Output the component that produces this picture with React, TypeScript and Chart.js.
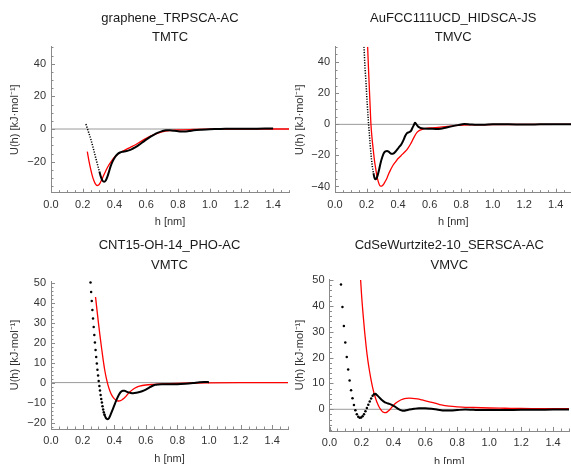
import React, { useEffect, useRef } from "react";
import { Chart, registerables } from "chart.js";

Chart.register(...registerables);

const FONT = '"Liberation Sans", Arial, Helvetica, sans-serif';

// ---------- Panel 1: graphene_TRPSCA-AC / TMTC ----------
const p1Title = ["graphene_TRPSCA-AC", "TMTC"];
const p1WallH = [0.22, 0.235, 0.25, 0.265, 0.28, 0.295, 0.305];
const p1WallU = [3, -1.4, -5.9, -11.3, -17, -22.4, -26];
const p1BlackH = [0.305, 0.315, 0.325, 0.335, 0.345, 0.355, 0.365, 0.375, 0.39, 0.405, 0.42, 0.435, 0.45, 0.47, 0.49, 0.51, 0.53, 0.55, 0.575, 0.6, 0.625, 0.65, 0.675, 0.7, 0.725, 0.75, 0.78, 0.81, 0.84, 0.87, 0.9, 0.95, 1.0, 1.05, 1.1, 1.2, 1.3, 1.4];
const p1BlackU = [-26, -29.5, -31.7, -32.3, -31.5, -29.3, -26.3, -23, -19.5, -17, -15.3, -14.4, -13.9, -13.6, -13.1, -12.3, -11.2, -10, -8.3, -6.5, -4.8, -3.4, -2.2, -1.3, -0.8, -0.8, -1.1, -1.5, -1.5, -1.2, -0.8, -0.4, -0.1, 0, 0.1, 0.1, 0.2, 0.3];
const p1RedH = [0.229, 0.24, 0.25, 0.26, 0.27, 0.28, 0.29, 0.3, 0.31, 0.32, 0.33, 0.345, 0.36, 0.38, 0.4, 0.42, 0.44, 0.46, 0.48, 0.5, 0.53, 0.56, 0.6, 0.65, 0.7, 0.75, 0.8, 0.9, 1.0, 1.2, 1.5];
const p1RedU = [-13.9, -20, -24.5, -28.5, -31.5, -33.6, -34.6, -34.3, -33, -31, -28.8, -25.7, -22.8, -19.8, -17.3, -15.5, -14.2, -13.2, -12.2, -11.2, -9.8, -8, -5.7, -3.5, -1.8, -1, -0.6, -0.3, -0.1, 0, 0];

// ---------- Panel 2: AuFCC111UCD_HIDSCA-JS / TMVC ----------
const p2Title = ["AuFCC111UCD_HIDSCA-JS", "TMVC"];
const p2WallH = [0.184, 0.19, 0.197, 0.202, 0.207, 0.212, 0.216, 0.22, 0.224, 0.23, 0.237, 0.244];
const p2WallU = [50, 37, 26.5, 17, 9.2, 1.5, -3.7, -9, -14.4, -21, -27.3, -31.5];
const p2BlackH = [0.244, 0.25, 0.256, 0.262, 0.27, 0.28, 0.29, 0.3, 0.31, 0.32, 0.33, 0.34, 0.35, 0.36, 0.37, 0.38, 0.39, 0.4, 0.41, 0.42, 0.435, 0.445, 0.455, 0.47, 0.482, 0.49, 0.5, 0.507, 0.515, 0.525, 0.54, 0.56, 0.6, 0.64, 0.67, 0.7, 0.74, 0.78, 0.82, 0.86, 0.9, 0.95, 1.0, 1.1, 1.2, 1.3, 1.4, 1.5];
const p2BlackU = [-31.5, -34.3, -35.3, -35, -33, -29, -24.5, -21, -18.5, -17.4, -17.2, -17.6, -18.5, -19, -18.8, -18, -16.8, -15.5, -14.2, -13, -10, -7.5, -5.8, -5, -4.2, -2.5, -0.5, 1.1, 0.2, -1.2, -2.3, -2.7, -2.8, -3, -2.8, -2.2, -1.3, -0.5, 0.2, -0.1, -0.3, -0.2, 0, 0, -0.1, 0, 0.1, 0];
const p2RedH = [0.207, 0.212, 0.217, 0.222, 0.228, 0.235, 0.243, 0.25, 0.258, 0.266, 0.275, 0.283, 0.29, 0.3, 0.31, 0.32, 0.33, 0.34, 0.35, 0.36, 0.37, 0.385, 0.4, 0.42, 0.44, 0.46, 0.48, 0.5, 0.52, 0.54, 0.57, 0.62, 0.7, 0.78, 0.9, 1.0, 1.5];
const p2RedU = [50, 37, 25, 13.5, 0, -9, -16.6, -23, -28.4, -33.5, -37, -39.2, -39.8, -39.5, -38.3, -36.5, -34.5, -32, -29.8, -27.8, -26, -24, -22, -20, -18, -15.8, -12.5, -8.5, -5.2, -3.7, -2.7, -2.2, -1.5, -0.6, -0.3, -0.1, 0];

// ---------- Panel 3: CNT15-OH-14_PHO-AC / VMTC ----------
const p3Title = ["CNT15-OH-14_PHO-AC", "VMTC"];
const p3WallH = [0.25, 0.254, 0.258, 0.262, 0.266, 0.27, 0.274, 0.278, 0.282, 0.286, 0.29, 0.294, 0.298, 0.302, 0.306, 0.31, 0.314, 0.318, 0.322, 0.326, 0.33, 0.334, 0.338];
const p3WallU = [50, 45.3, 40.8, 36.3, 32, 27.8, 23.8, 20, 16.3, 12.8, 9.5, 6.4, 3.5, 0.8, -1.7, -4, -6.2, -8.2, -10, -11.8, -13.4, -14.8, -16];
const p3BlackH = [0.338, 0.345, 0.352, 0.36, 0.367, 0.375, 0.385, 0.395, 0.405, 0.415, 0.425, 0.435, 0.445, 0.455, 0.465, 0.475, 0.49, 0.505, 0.52, 0.54, 0.56, 0.58, 0.6, 0.62, 0.64, 0.66, 0.68, 0.7, 0.75, 0.8, 0.85, 0.9, 0.94, 0.97, 1.0];
const p3BlackU = [-16, -17.3, -18.1, -18.3, -17.8, -16.5, -14.5, -12.5, -10.5, -8.5, -6.8, -5.4, -4.5, -4.1, -4.1, -4.4, -4.9, -5.2, -5.3, -5.1, -4.7, -4.2, -3.5, -2.6, -1.7, -1.1, -0.9, -0.8, -0.8, -0.8, -0.6, -0.2, 0.2, 0.3, 0.2];
const p3RedH = [0.282, 0.29, 0.3, 0.31, 0.32, 0.33, 0.34, 0.35, 0.36, 0.37, 0.38, 0.39, 0.4, 0.41, 0.42, 0.43, 0.44, 0.45, 0.46, 0.47, 0.48, 0.49, 0.5, 0.52, 0.54, 0.56, 0.6, 0.65, 0.7, 0.8, 0.9, 1.0, 1.2, 1.5];
const p3RedU = [42.8, 37, 30, 23.5, 17.3, 11.5, 6.3, 2.2, -1, -3.6, -5.6, -7, -8, -8.7, -9.1, -9.2, -9, -8.6, -8, -7.2, -6.3, -5.4, -4.6, -3.3, -2.4, -1.8, -1.2, -0.9, -0.7, -0.4, -0.2, -0.1, 0, 0];

// ---------- Panel 4: CdSeWurtzite2-10_SERSCA-AC / VMVC ----------
const p4Title = ["CdSeWurtzite2-10_SERSCA-AC", "VMVC"];
const p4WallH = [0.072, 0.081, 0.09, 0.099, 0.108, 0.117, 0.126, 0.135, 0.144, 0.153, 0.162, 0.171, 0.18, 0.189, 0.198, 0.207, 0.216, 0.225, 0.234, 0.243, 0.252, 0.261, 0.27, 0.279, 0.288];
const p4WallU = [48.3, 39.6, 32.2, 25.8, 20.2, 15.4, 11.1, 7.4, 4.3, 1.7, -0.4, -1.9, -2.9, -3.3, -3.2, -2.7, -1.9, -0.8, 0.5, 1.8, 3, 4.2, 5.2, 5.8, 5.9];
const p4BlackH = [0.288, 0.3, 0.315, 0.33, 0.345, 0.36, 0.375, 0.39, 0.41, 0.43, 0.45, 0.465, 0.48, 0.5, 0.53, 0.56, 0.6, 0.64, 0.68, 0.72, 0.76, 0.8, 0.85, 0.9, 0.95, 1.0, 1.1, 1.2, 1.3, 1.4, 1.5];
const p4BlackU = [5.9, 5.3, 4.4, 3.5, 2.8, 2.4, 2.1, 1.7, 1, 0.2, -0.4, -0.6, -0.4, -0.1, 0.2, 0.4, 0.4, 0.2, -0.2, -0.5, -0.5, -0.3, -0.1, -0.2, -0.3, -0.3, -0.3, -0.2, -0.2, -0.1, -0.1];
const p4RedH = [0.195, 0.2, 0.21, 0.22, 0.23, 0.24, 0.25, 0.26, 0.27, 0.28, 0.29, 0.3, 0.31, 0.32, 0.33, 0.34, 0.35, 0.36, 0.37, 0.38, 0.39, 0.4, 0.42, 0.44, 0.46, 0.48, 0.5, 0.52, 0.55, 0.58, 0.62, 0.66, 0.7, 0.75, 0.8, 0.9, 1.0, 1.1, 1.2, 1.3, 1.4, 1.5];
const p4RedU = [50, 45, 37, 30, 24, 19, 15, 11.5, 8.5, 6, 4, 2.3, 1, 0, -0.8, -1.2, -1.3, -1.1, -0.6, 0, 0.8, 1.5, 2.6, 3.4, 3.9, 4.2, 4.3, 4.25, 4, 3.6, 3, 2.4, 1.7, 1.2, 0.95, 0.7, 0.5, 0.4, 0.3, 0.25, 0.2, 0.2];

// ---------- axes ----------
const xRange = [0, 1.5];
const xMajorStep = 0.2;
const xMinorStep = 0.05;
const yRanges = [[-39, 50.4], [-44, 50], [-23.2, 50.8], [-8.4, 50.4]];
const yMajorSteps = [20, 20, 10, 10];
const yMinorSteps = [5, 5, 2, 2];
const xAxisTitle = "h [nm]";
const yAxisTitle = "U(h) [kJ·mol⁻¹]";

// ---------- layout (pixels) ----------
type Layout = {
  box: { left: number; top: number; width: number; height: number };
  area: { left: number; top: number; right: number; bottom: number };
  titleLine: number;
  titlePadTop: number;
  yTitleX: number;
  xTitleY: number;
};
const layouts: Layout[] = [
  { box: { left: 0, top: 0, width: 292, height: 232 }, area: { left: 51, top: 46.7, right: 289, bottom: 192.7 }, titleLine: 19.3, titlePadTop: 8.6, yTitleX: 15, xTitleY: 221.5 },
  { box: { left: 284, top: 0, width: 292, height: 232 }, area: { left: 335, top: 46.7, right: 571.5, bottom: 192.7 }, titleLine: 19.3, titlePadTop: 8.6, yTitleX: 300, xTitleY: 221.5 },
  { box: { left: 0, top: 230, width: 292, height: 240 }, area: { left: 51, top: 281, right: 289, bottom: 429 }, titleLine: 20, titlePadTop: 5.5, yTitleX: 15, xTitleY: 459.2 },
  { box: { left: 284, top: 230, width: 292, height: 240 }, area: { left: 329.5, top: 279, right: 569, bottom: 431 }, titleLine: 20, titlePadTop: 5.5, yTitleX: 300, xTitleY: 461.5 },
];

type Series = {
  title: string[];
  wallH: number[]; wallU: number[]; wallDots: boolean;
  blackH: number[]; blackU: number[];
  redH: number[]; redU: number[];
};
const series: Series[] = [
  { title: p1Title, wallH: p1WallH, wallU: p1WallU, wallDots: false, blackH: p1BlackH, blackU: p1BlackU, redH: p1RedH, redU: p1RedU },
  { title: p2Title, wallH: p2WallH, wallU: p2WallU, wallDots: false, blackH: p2BlackH, blackU: p2BlackU, redH: p2RedH, redU: p2RedU },
  { title: p3Title, wallH: p3WallH, wallU: p3WallU, wallDots: true, blackH: p3BlackH, blackU: p3BlackU, redH: p3RedH, redU: p3RedU },
  { title: p4Title, wallH: p4WallH, wallU: p4WallU, wallDots: true, blackH: p4BlackH, blackU: p4BlackU, redH: p4RedH, redU: p4RedU },
];

const FRAME = "#8a8a8a";
const LABEL = "#333333";

const frameTicks = {
  id: "frameTicks",
  afterDraw(chart: any, _args: any, opts: any) {
    const { ctx, chartArea: a } = chart;
    const x = chart.scales.x;
    const y = chart.scales.y;
    ctx.save();
    ctx.strokeStyle = FRAME;
    ctx.lineWidth = 1;
    ctx.beginPath();
    const nx = Math.round((x.max - x.min) / opts.xMinor);
    for (let i = 0; i <= nx; i++) {
      const v = x.min + i * opts.xMinor;
      const r = v / opts.xMajor;
      const major = Math.abs(r - Math.round(r)) < 1e-6;
      const px = Math.round(x.getPixelForValue(v)) + 0.5;
      ctx.moveTo(px, a.bottom);
      ctx.lineTo(px, a.bottom - (major ? 4 : 2.5));
    }
    const start = Math.ceil(y.min / opts.yMinor);
    const end = Math.floor(y.max / opts.yMinor);
    for (let k = start; k <= end; k++) {
      const v = k * opts.yMinor;
      const r = v / opts.yMajor;
      const major = Math.abs(r - Math.round(r)) < 1e-6;
      const py = Math.round(y.getPixelForValue(v)) + 0.5;
      ctx.moveTo(a.left, py);
      ctx.lineTo(a.left + (major ? 4 : 2.5), py);
    }
    ctx.stroke();
    ctx.restore();
  },
};

const toPts = (hs: number[], us: number[]) => hs.map((h, i) => ({ x: h, y: us[i] }));

function Panel({ idx }: { idx: number }) {
  const ref = useRef<HTMLCanvasElement>(null);
  const L = layouts[idx];
  useEffect(() => {
    const s = series[idx];
    const { box, area } = L;
    const yAxisW = area.left - box.left;
    const titleBottomPad = area.top - box.top - L.titlePadTop - 2 * L.titleLine;
    const xAxisH = L.xTitleY - area.bottom + 6.6;
    const padBottom = box.height - (area.bottom - box.top) - xAxisH;
    const padRight = box.width - (area.right - box.left);
    const [yMin, yMax] = yRanges[idx];

    const wallDs: any = s.wallDots
      ? { data: toPts(s.wallH, s.wallU), showLine: false, pointRadius: 1.25, pointBackgroundColor: "#000", pointBorderWidth: 0, borderColor: "#000" }
      : { data: toPts(s.wallH, s.wallU), showLine: true, borderColor: "#000", borderWidth: 1.5, borderDash: [1.2, 1.4], pointRadius: 0 };

    const chart = new Chart(ref.current as HTMLCanvasElement, {
      type: "scatter",
      data: {
        datasets: [
          wallDs,
          { data: toPts(s.blackH, s.blackU), showLine: true, borderColor: "#000", borderWidth: 2, pointRadius: 0, cubicInterpolationMode: "monotone" },
          { data: toPts(s.redH, s.redU), showLine: true, borderColor: "#ff0000", borderWidth: 1.3, pointRadius: 0, cubicInterpolationMode: "monotone" },
          { data: [{ x: xRange[0], y: 0 }, { x: xRange[1], y: 0 }], showLine: true, borderColor: "#9a9a9a", borderWidth: 1, pointRadius: 0 },
        ],
      },
      options: {
        responsive: false,
        animation: false,
        devicePixelRatio: 1,
        layout: { padding: { left: 0, top: 0, right: padRight, bottom: padBottom } },
        plugins: {
          legend: { display: false },
          tooltip: { enabled: false },
          title: {
            display: true,
            text: s.title,
            fullSize: false,
            color: "#1a1a1a",
            font: { family: FONT, size: 13, weight: "normal", lineHeight: L.titleLine / 13 },
            padding: { top: L.titlePadTop, bottom: titleBottomPad },
          },
          frameTicks: { xMinor: xMinorStep, xMajor: xMajorStep, yMinor: yMinorSteps[idx], yMajor: yMajorSteps[idx] },
        } as any,
        scales: {
          x: {
            type: "linear",
            min: xRange[0],
            max: xRange[1],
            grid: { display: false, drawTicks: false },
            border: { display: true, color: FRAME, width: 1 },
            ticks: {
              stepSize: xMajorStep,
              includeBounds: false,
              autoSkip: false,
              maxRotation: 0,
              padding: 5.5,
              color: LABEL,
              font: { family: FONT, size: 11 },
              callback: (v: any) => Number(v).toFixed(1),
            },
            title: { display: true, text: xAxisTitle, color: LABEL, font: { family: FONT, size: 11 }, padding: { top: 0, bottom: 0 } },
            afterFit: (sc: any) => { sc.height = xAxisH; },
          },
          y: {
            type: "linear",
            min: yMin,
            max: yMax,
            grid: { display: false, drawTicks: false },
            border: { display: true, color: FRAME, width: 1 },
            ticks: {
              stepSize: yMajorSteps[idx],
              includeBounds: false,
              padding: 5,
              color: LABEL,
              font: { family: FONT, size: 11 },
              callback: (v: any) => String(v).replace("-", "\u2212"),
            },
            title: { display: true, text: yAxisTitle, color: LABEL, font: { family: FONT, size: 11 }, padding: { top: L.yTitleX - box.left - 6.6, bottom: 0 } },
            afterFit: (sc: any) => { sc.width = yAxisW; },
          },
        },
      } as any,
      plugins: [frameTicks as any],
    });
    return () => chart.destroy();
  }, [idx]);
  return (
    <canvas
      ref={ref}
      width={L.box.width}
      height={L.box.height}
      style={{ position: "absolute", left: L.box.left, top: L.box.top, width: L.box.width, height: L.box.height }}
    />
  );
}

export default function App() {
  return (
    <div style={{ position: "fixed", left: 0, top: 0, width: 571, height: 464, overflow: "hidden", background: "#fff" }}>
      {series.map((_, i) => (
        <Panel key={i} idx={i} />
      ))}
    </div>
  );
}
